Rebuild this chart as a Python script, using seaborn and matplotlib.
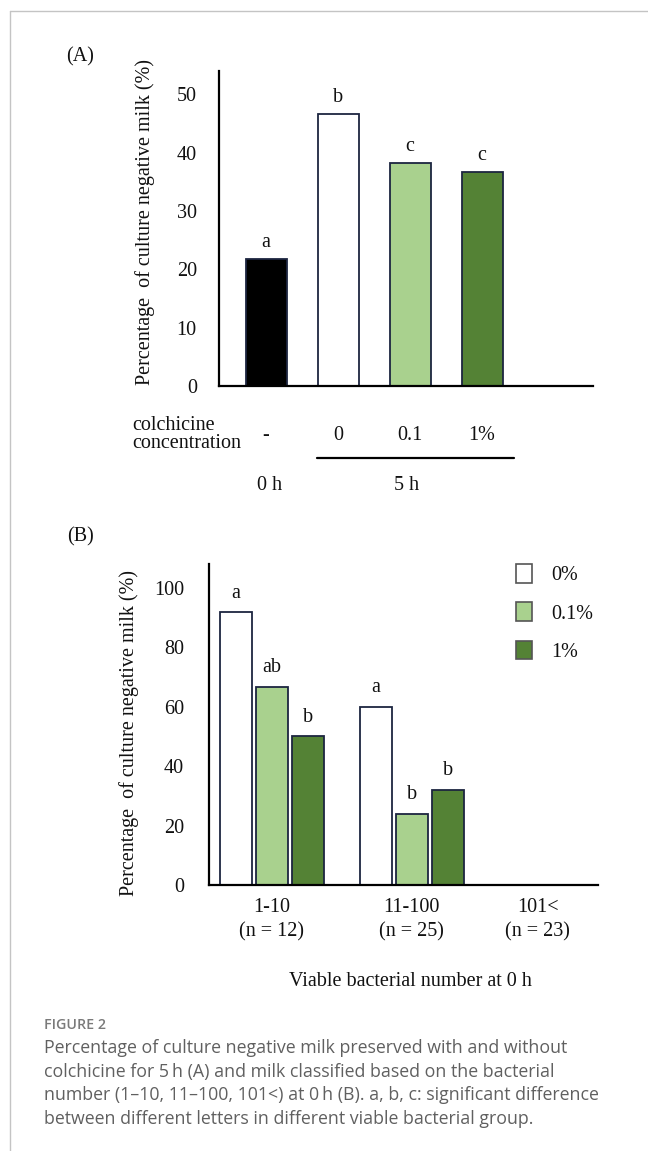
import matplotlib
matplotlib.use('Agg')
import matplotlib.pyplot as plt
import seaborn as sns
import pandas as pd
from matplotlib.patches import Patch
from matplotlib.lines import Line2D
from matplotlib.transforms import ScaledTranslation

# Panel A: colchicine concentration after 5 h
conc_labels = ['-', '0', '0.1', '1%']
conc_values = [21.7, 46.7, 38.3, 36.7]
conc_letters = ['a', 'b', 'c', 'c']
conc_colors = ['black', 'white', '#a9d18e', '#548235']

# Panel B: viable bacterial number groups
groups = ['1-10\n(n = 12)', '11-100\n(n = 25)', '101<\n(n = 23)']
levels = ['0%', '0.1%', '1%']
pct_0 = [91.7, 60.0, 0.0]
pct_01 = [66.7, 24.0, 0.0]
pct_1 = [50.0, 32.0, 0.0]
letters_0 = ['a', 'a', '']
letters_01 = ['ab', 'b', '']
letters_1 = ['b', 'b', '']
level_colors = ['white', '#a9d18e', '#548235']

caption_title = 'FIGURE 2'
caption_lines = [
    'Percentage of culture negative milk preserved with and without',
    'colchicine for 5\u2009h (A) and milk classified based on the bacterial',
    'number (1\u201310, 11\u2013100, 101<) at 0\u2009h (B). a, b, c: significant difference',
    'between different letters in different viable bacterial group.',
]

W, H = 648, 1151
ylab = 'Percentage  of culture negative milk (%)'
edge = '#1c2540'
fs = 14.5

sns.set_theme(style='white')
plt.rcParams['font.family'] = ['Liberation Serif', 'DejaVu Serif']
plt.rcParams['text.color'] = '#111111'
plt.rcParams['axes.labelcolor'] = '#111111'
plt.rcParams['xtick.color'] = '#111111'
plt.rcParams['ytick.color'] = '#111111'


def px_rect(l, t, r, b):
    return [l / W, 1 - b / H, (r - l) / W, (b - t) / H]


fig = plt.figure(figsize=(W / 100, H / 100), dpi=100)
fig.patch.set_facecolor('white')

# ---- panel A ----
dfA = pd.DataFrame({'conc': conc_labels, 'value': conc_values})
axA = fig.add_axes(px_rect(219, 71, 593, 386))
sns.barplot(data=dfA, x='conc', y='value', hue='conc', palette=conc_colors,
            width=0.57, saturation=1, edgecolor=edge, linewidth=1.3,
            legend=False, ax=axA)
axA.set_xlim(-0.653, 4.54)
axA.set_ylim(0, 54)
axA.set_yticks(range(0, 51, 10))
axA.tick_params(axis='y', length=0, pad=16, labelsize=fs)
axA.tick_params(axis='x', length=0, pad=29, labelsize=fs)
axA.set_xlabel('')
axA.set_ylabel(ylab, fontsize=fs)
axA.yaxis.set_label_coords(-0.172, 0.52)
for s in ['top', 'right']:
    axA.spines[s].set_visible(False)
for s in ['left', 'bottom']:
    axA.spines[s].set_color('black')
    axA.spines[s].set_linewidth(1.6)

bars = sorted(axA.patches, key=lambda p: p.get_x())
for p, let in zip(bars, conc_letters):
    axA.annotate(let, (p.get_x() + p.get_width() / 2, p.get_height()),
                 xytext=(0, 5), textcoords='offset points',
                 ha='center', va='bottom', fontsize=fs)

fig.text(80 / W, 1 - 57 / H, '(A)', ha='center', va='center', fontsize=fs)
fig.text(132 / W, 1 - 426 / H, 'colchicine', ha='left', va='center', fontsize=fs)
fig.text(132 / W, 1 - 444 / H, 'concentration', ha='left', va='center', fontsize=fs)
fig.add_artist(Line2D([317 / W, 514 / W], [1 - 458 / H, 1 - 458 / H],
                      color='black', linewidth=1.6))
fig.text(270 / W, 1 - 485 / H, '0 h', ha='center', va='center', fontsize=fs)
fig.text(407 / W, 1 - 485 / H, '5 h', ha='center', va='center', fontsize=fs)

# ---- panel B ----
dfB = pd.DataFrame({
    'group': groups * 3,
    'level': [levels[0]] * 3 + [levels[1]] * 3 + [levels[2]] * 3,
    'value': pct_0 + pct_01 + pct_1,
})
axB = fig.add_axes(px_rect(209, 564, 598, 885))
sns.barplot(data=dfB, x='group', y='value', hue='level', palette=level_colors,
            width=0.78, gap=0.12, saturation=1, edgecolor=edge, linewidth=1.3,
            legend=False, ax=axB)
axB.set_xlim(-0.45, 2.33)
axB.set_ylim(0, 108)
axB.set_yticks(range(0, 101, 20))
axB.tick_params(axis='y', length=0, pad=18, labelsize=fs)
axB.tick_params(axis='x', length=0, pad=9, labelsize=fs)
for t in axB.get_xticklabels():
    t.set_linespacing(1.4)
# the last group label sits a little left of its slot in the original
last = axB.get_xticklabels()[-1]
last.set_transform(last.get_transform() + ScaledTranslation(-0.14, 0, fig.dpi_scale_trans))
axB.set_ylabel(ylab, fontsize=fs)
axB.yaxis.set_label_coords(-0.18, 0.473)
axB.set_xlabel('Viable bacterial number at 0 h', fontsize=fs)
axB.xaxis.set_label_coords(0.519, -0.272)
for s in ['top', 'right']:
    axB.spines[s].set_visible(False)
for s in ['left', 'bottom']:
    axB.spines[s].set_color('black')
    axB.spines[s].set_linewidth(1.6)

for cont, lets in zip(axB.containers, [letters_0, letters_01, letters_1]):
    for p, let in zip(cont, lets):
        if let:
            axB.annotate(let, (p.get_x() + p.get_width() / 2, p.get_height()),
                         xytext=(0, 7), textcoords='offset points',
                         ha='center', va='bottom', fontsize=fs)

handles = [Patch(facecolor=c, edgecolor='#555555', linewidth=1.2) for c in level_colors]
axB.legend(handles, levels, loc='upper left', bbox_to_anchor=(516 / W, 1 - 564 / H),
           bbox_transform=fig.transFigure, frameon=False, borderpad=0,
           borderaxespad=0, handlelength=0.8, handleheight=1.05,
           handletextpad=0.95, labelspacing=0.85, fontsize=fs)

fig.text(80 / W, 1 - 537 / H, '(B)', ha='center', va='center', fontsize=fs)

# ---- caption ----
fig.text(44 / W, 1 - 1025 / H, caption_title, ha='left', va='center',
         fontsize=10.3, color='#7a7a7a', family=['Open Sans', 'DejaVu Sans'],
         fontweight='semibold')
for i, line in enumerate(caption_lines):
    fig.text(44 / W, 1 - (1048 + 23.5 * i) / H, line, ha='left', va='center',
             fontsize=12.8, color='#606060', family=['Open Sans', 'DejaVu Sans'])

# card border
fig.add_artist(Line2D([10 / W, 1], [1 - 11 / H, 1 - 11 / H], color='#c4c4c4', linewidth=1))
fig.add_artist(Line2D([10 / W, 10 / W], [0, 1 - 11 / H], color='#c4c4c4', linewidth=1))

fig.savefig('out.png', dpi=100, facecolor='white')
